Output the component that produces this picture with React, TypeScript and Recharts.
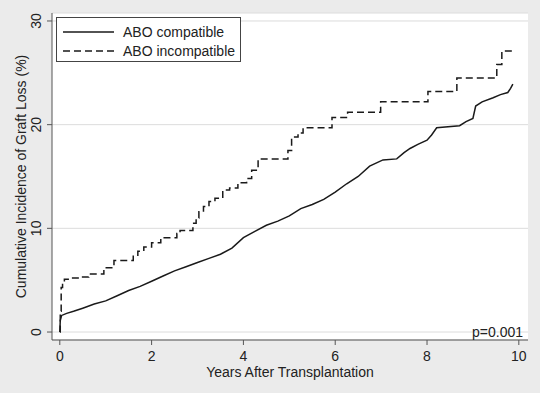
import {
  CartesianGrid,
  Label,
  Legend,
  Line,
  LineChart,
  ReferenceLine,
  XAxis,
  YAxis,
} from 'recharts';

const FONT = '"Liberation Sans", Arial, sans-serif';

// ABO compatible (solid)
const compatYears = [
  0, 0.01, 0.04, 0.15, 0.3, 0.5, 0.75, 1.0, 1.25, 1.5, 1.75, 2.0, 2.25, 2.5, 2.75, 3.0, 3.25, 3.5,
  3.75, 4.0, 4.25, 4.5, 4.75, 5.0, 5.25, 5.5, 5.75, 6.0, 6.25, 6.5, 6.75, 7.04, 7.34, 7.5, 7.63,
  7.8, 8.0, 8.1, 8.21, 8.71, 8.85, 9.0, 9.06, 9.2, 9.44, 9.6, 9.76, 9.82, 9.87,
];
const compatValues = [
  0, 1.1, 1.6, 1.8, 2.0, 2.3, 2.7, 3.0, 3.5, 4.0, 4.4, 4.9, 5.4, 5.9, 6.3, 6.7, 7.1, 7.5, 8.1, 9.1,
  9.7, 10.3, 10.7, 11.2, 11.9, 12.3, 12.8, 13.5, 14.3, 15.0, 16.0, 16.6, 16.7, 17.3, 17.7, 18.1,
  18.5, 19.0, 19.7, 19.9, 20.3, 20.6, 21.8, 22.2, 22.6, 22.9, 23.1, 23.5, 23.9,
];

// ABO incompatible (dashed)
const incompatYears = [
  0, 0.01, 0.03, 0.06, 0.1, 0.25, 0.44, 0.63, 0.96, 1.18, 1.6, 1.7, 1.83, 2.0, 2.2, 2.55, 2.62,
  2.9, 2.97, 3.03, 3.13, 3.25, 3.38, 3.55, 3.7, 3.88, 4.07, 4.18, 4.32, 4.97, 5.05, 5.19, 5.3,
  5.93, 6.27, 6.99, 8.02, 8.65, 9.52, 9.63, 9.87,
];
const incompatValues = [
  0, 2.0, 4.3, 4.8, 5.1, 5.2, 5.3, 5.6, 6.2, 6.9, 7.4, 7.8, 8.2, 8.6, 9.1, 9.5, 9.8, 10.5, 11.0,
  11.6, 12.1, 12.6, 12.9, 13.7, 13.9, 14.4, 14.8, 15.6, 16.7, 17.5, 18.8, 19.2, 19.7, 20.7, 21.2,
  22.2, 23.2, 24.5, 25.8, 27.1, 27.1,
];

const xTicks = [0, 2, 4, 6, 8, 10];
const yTicks = [0, 10, 20, 30];

const compatData = compatYears.map((year, i) => ({ year, value: compatValues[i] }));
const incompatData = incompatYears.map((year, i) => ({ year, value: incompatValues[i] }));

const DASH = '7 4';

function YTick(props: any) {
  const { x, y, payload } = props;
  const cx = x - 9;
  return (
    <text
      x={cx}
      y={y}
      transform={`rotate(-90, ${cx}, ${y})`}
      textAnchor="middle"
      dominantBaseline="central"
      fontSize={14}
      fill="#222"
      fontFamily={FONT}
    >
      {payload.value}
    </text>
  );
}

function YLabel(props: any) {
  const vb = props.viewBox || { x: 0, y: 13, width: 52, height: 327 };
  const cx = vb.x + 21;
  const cy = vb.y + vb.height / 2;
  return (
    <text
      x={cx}
      y={cy}
      transform={`rotate(-90, ${cx}, ${cy})`}
      textAnchor="middle"
      dominantBaseline="central"
      fontSize={14}
      fill="#222"
      fontFamily={FONT}
    >
      Cumulative Incidence of Graft Loss (%)
    </text>
  );
}

function LegendBox(props: any) {
  const items = props.payload || [];
  return (
    <div
      style={{
        width: 183,
        height: 43,
        border: '1px solid #444',
        background: '#fff',
      }}
    >
      <svg width={183} height={43}>
        {items.map((item: any, i: number) => {
          const y = 14 + i * 19;
          return (
            <g key={item.value}>
              <line
                x1={6}
                x2={57}
                y1={y}
                y2={y}
                stroke="#1a1a1a"
                strokeWidth={1.5}
                strokeDasharray={i === 1 ? DASH : undefined}
              />
              <text
                x={66}
                y={y}
                dominantBaseline="central"
                fontSize={14}
                fill="#222"
                fontFamily={FONT}
              >
                {item.value}
              </text>
            </g>
          );
        })}
      </svg>
    </div>
  );
}

export default function App() {
  return (
    <div
      style={{
        position: 'absolute',
        left: 0,
        top: 0,
        width: 540,
        height: 393,
        background: '#ebebeb',
        fontFamily: FONT,
      }}
    >
      <LineChart width={540} height={393} margin={{ top: 13, right: 12, left: 0, bottom: 0 }}>
        <CartesianGrid vertical={false} stroke="#dcdcdc" fill="#fff" />
        <XAxis
          dataKey="year"
          type="number"
          domain={[-0.17, 10.2]}
          ticks={xTicks}
          allowDataOverflow
          height={53}
          tickSize={5}
          tickMargin={6}
          stroke="#555"
          tick={{ fill: '#222', fontSize: 14, fontFamily: FONT }}
        >
          <Label
            value="Years After Transplantation"
            position="insideBottom"
            offset={16}
            fill="#222"
            fontSize={14}
            fontFamily={FONT}
          />
        </XAxis>
        <YAxis
          type="number"
          domain={[-0.77, 30.77]}
          ticks={yTicks}
          allowDataOverflow
          width={52}
          tickSize={5}
          stroke="#555"
          tick={<YTick />}
        >
          <Label content={<YLabel />} position="center" />
        </YAxis>
        <ReferenceLine
          y={0}
          stroke="none"
          label={{
            value: 'p=0.001',
            position: 'insideRight',
            fill: '#222',
            fontSize: 14,
            fontFamily: FONT,
            offset: 5,
          }}
        />
        <Legend
          layout="vertical"
          align="center"
          verticalAlign="middle"
          wrapperStyle={{ left: 56, top: 17, width: 185, height: 45 }}
          content={<LegendBox />}
        />
        <Line
          data={compatData}
          dataKey="value"
          name="ABO compatible"
          type="linear"
          stroke="#1a1a1a"
          strokeWidth={1.5}
          dot={false}
          isAnimationActive={false}
        />
        <Line
          data={incompatData}
          dataKey="value"
          name="ABO incompatible"
          type="stepAfter"
          stroke="#1a1a1a"
          strokeWidth={1.5}
          strokeDasharray={DASH}
          dot={false}
          isAnimationActive={false}
        />
      </LineChart>
    </div>
  );
}
